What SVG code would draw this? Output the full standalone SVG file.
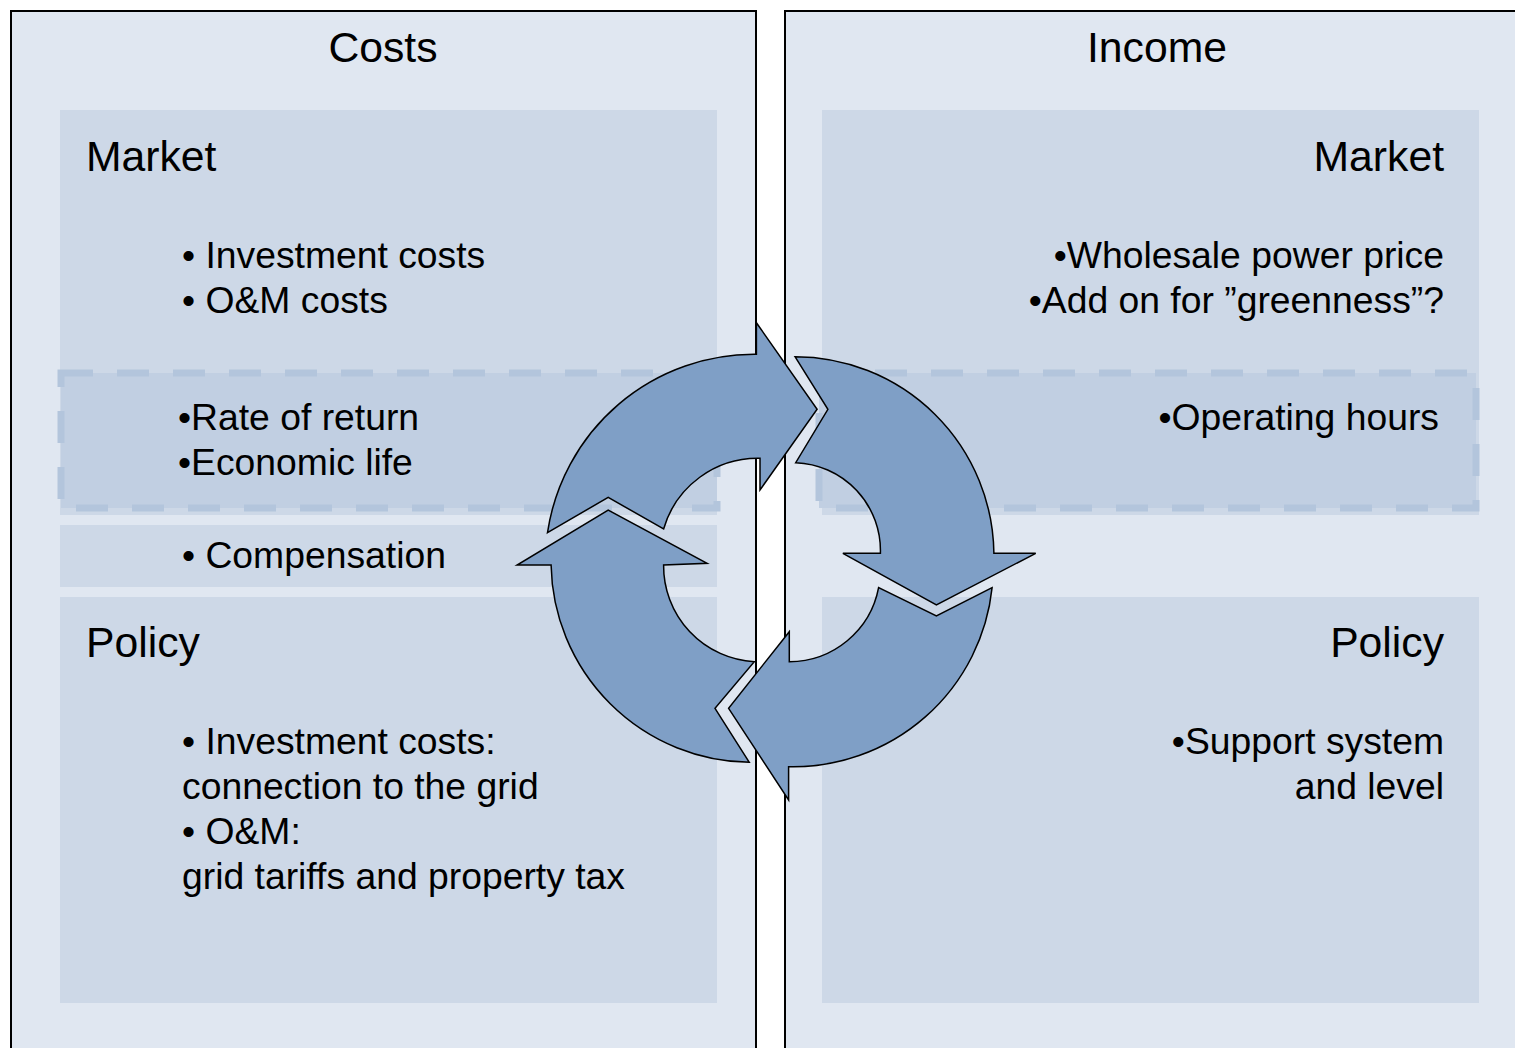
<svg xmlns="http://www.w3.org/2000/svg" width="1515" height="1048" viewBox="0 0 1515 1048">
<style>
.panel{fill:#E0E7F1;stroke:#000;stroke-width:2}
.box{fill:#CDD8E7}
.dash{fill:#C1CFE2;stroke:#B3C5DC;stroke-width:7;stroke-dasharray:32 24}
.arrow{fill:#7F9FC6;stroke:#000;stroke-width:1.5;stroke-linejoin:miter}
text{font-family:"Liberation Sans",Arial,sans-serif;fill:#000}
.title{font-size:42.7px}
.item{font-size:37.3px}
.r{text-anchor:end}
.c{text-anchor:middle}
</style>
<rect width="1515" height="1048" fill="#fff"/>
<g id="costs">
  <rect class="panel" x="11" y="11" width="745" height="1060"/>
  <text class="title c" x="383" y="62">Costs</text>
</g>
<g id="income">
  <rect class="panel" x="785" y="11" width="745" height="1060"/>
  <text class="title c" x="1157" y="62">Income</text>
</g>
<g id="costs-market">
  <rect class="box" x="60" y="110" width="657" height="405"/>
  <text class="title" x="86" y="171">Market</text>
  <text class="item" x="182" y="268">• Investment costs</text>
  <text class="item" x="182" y="313">• O&amp;M costs</text>
</g>
<g id="costs-rate">
  <rect class="dash" x="61" y="373" width="656" height="135"/>
  <text class="item" x="178" y="430">•Rate of return</text>
  <text class="item" x="178" y="475">•Economic life</text>
</g>
<g id="costs-compensation">
  <rect class="box" x="60" y="525" width="657" height="62"/>
  <text class="item" x="182" y="568">• Compensation</text>
</g>
<g id="costs-policy">
  <rect class="box" x="60" y="597" width="657" height="406"/>
  <text class="title" x="86" y="657">Policy</text>
  <text class="item" x="182" y="754">• Investment costs:</text>
  <text class="item" x="182" y="799">connection to the grid</text>
  <text class="item" x="182" y="844">• O&amp;M:</text>
  <text class="item" x="182" y="889">grid tariffs and property tax</text>
</g>
<g id="income-market">
  <rect class="box" x="822" y="110" width="657" height="405"/>
  <text class="title r" x="1444" y="171">Market</text>
  <text class="item r" x="1444" y="268">•Wholesale power price</text>
  <text class="item r" x="1444" y="313">•Add on for ”greenness”?</text>
</g>
<g id="income-hours">
  <rect class="dash" x="819" y="373" width="657" height="135"/>
  <text class="item r" x="1439" y="430">•Operating hours</text>
</g>
<g id="income-policy">
  <rect class="box" x="822" y="597" width="657" height="406"/>
  <text class="title r" x="1444" y="657">Policy</text>
  <text class="item r" x="1444" y="754">•Support system</text>
  <text class="item r" x="1444" y="799">and level</text>
</g>
<g id="connectors">
  <path class="arrow" d="M547.5,532.7 L608.2,497.3 L663.6,529 A98,98 0 0,1 760,458.3 L760,490 L817.1,409.3 L756.4,322.7 L756.4,354.3 A209,209 0 0,0 547.5,532.7 Z"/>
  <path class="arrow" d="M795,356.7 L827.9,409.3 L795.7,462.7 A88,88 0 0,1 880.4,553.3 L842.9,553.3 L936.4,605 L1035.7,553.3 L993.9,553.3 A199,199 0 0,0 795,356.7 Z"/>
  <path class="arrow" d="M992.1,587.7 L936.4,616 L878.6,587.7 A91,91 0 0,1 789.3,661.7 L789.3,631.7 L728.6,708.3 L788.6,800 L788.6,766.7 A200,200 0 0,0 992.1,587.7 Z"/>
  <path class="arrow" d="M749.3,762.3 L715,708.3 L754.3,661.7 A96,96 0 0,1 663.6,565 L707.1,563.3 L608.2,510 L517.1,565 L551.1,565 A201,201 0 0,0 749.3,762.3 Z"/>
</g>
</svg>
